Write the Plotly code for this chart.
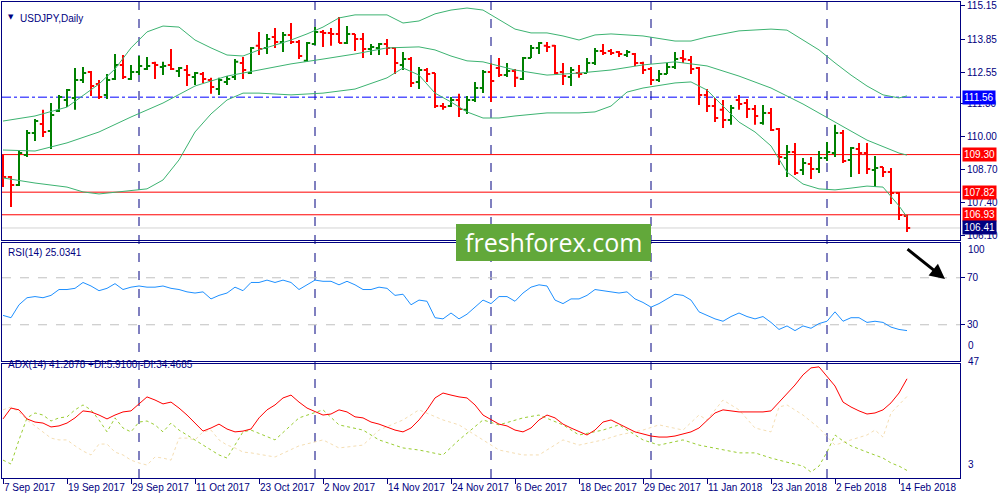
import plotly.graph_objects as go
from plotly.subplots import make_subplots

# USDJPY daily bars, 7 Sep 2017 - 15 Feb 2018 (bar index 0..113)
tick_bars = [0, 8, 16, 24, 32, 40, 48, 56, 64, 72, 80, 88, 96, 104, 112]
tick_labels = ['7 Sep 2017', '19 Sep 2017', '29 Sep 2017', '11 Oct 2017', '23 Oct 2017',
               '2 Nov 2017', '14 Nov 2017', '24 Nov 2017', '6 Dec 2017', '18 Dec 2017',
               '29 Dec 2017', '11 Jan 2018', '23 Jan 2018', '2 Feb 2018', '14 Feb 2018']
month_starts = [17, 39, 61, 81, 103]

opens = [108.61, 108.42, 108.10, 109.28, 110.15, 110.50, 110.23, 111.02, 111.45, 111.53,
         112.24, 112.55, 112.08, 111.65, 112.28, 112.83, 112.28, 112.55, 112.67, 112.91,
         112.75, 112.83, 112.59, 112.63, 112.35, 112.47, 112.24, 111.88, 112.16, 112.35,
         112.91, 112.51, 113.58, 113.50, 113.93, 113.73, 114.01, 113.73, 112.99, 113.65,
         114.13, 114.09, 114.05, 113.69, 114.05, 113.85, 113.46, 113.50, 113.65, 113.50,
         112.83, 113.06, 112.16, 112.63, 112.51, 111.21, 111.21, 111.45, 111.06, 111.45,
         111.92, 112.55, 112.71, 112.43, 112.59, 112.28, 113.10, 113.50, 113.58, 113.58,
         112.55, 112.35, 112.51, 112.51, 112.91, 113.38, 113.38, 113.34, 113.22, 113.26,
         112.91, 112.67, 112.24, 112.47, 112.75, 113.10, 113.02, 112.71, 111.65, 111.21,
         111.06, 110.66, 111.45, 111.33, 111.09, 110.54, 110.94, 110.31, 109.17, 109.40,
         108.69, 108.93, 108.73, 109.17, 109.36, 110.15, 109.09, 109.52, 109.36, 108.69,
         108.81, 108.61, 107.79, 106.88]
highs = [109.28, 108.46, 109.48, 110.27, 110.70, 111.06, 111.33, 111.65, 111.88, 112.71,
         112.75, 112.59, 112.24, 112.47, 113.26, 113.22, 112.83, 113.18, 113.14, 112.95,
         112.95, 113.46, 112.75, 112.83, 112.55, 112.55, 112.32, 112.32, 112.39, 113.06,
         113.14, 113.54, 114.13, 114.05, 114.28, 114.13, 114.48, 113.81, 113.73, 114.32,
         114.20, 114.28, 114.72, 114.36, 114.05, 114.09, 113.65, 113.69, 113.85, 113.54,
         113.34, 113.14, 112.75, 112.71, 112.51, 111.33, 111.57, 111.69, 111.61, 112.16,
         112.63, 112.91, 113.10, 112.91, 112.67, 113.14, 113.61, 113.73, 113.73, 113.61,
         112.91, 112.75, 112.83, 113.10, 113.50, 113.65, 113.46, 113.38, 113.42, 113.30,
         112.95, 112.75, 112.63, 112.91, 113.34, 113.42, 113.18, 112.75, 111.88, 111.53,
         111.45, 111.25, 111.65, 111.49, 111.25, 111.25, 111.13, 110.35, 109.68, 109.76,
         109.17, 109.20, 109.44, 109.80, 110.47, 110.27, 109.60, 109.76, 109.76, 109.24,
         108.81, 108.77, 107.83, 106.92]
lows = [108.02, 107.24, 108.06, 109.20, 109.83, 109.99, 109.52, 110.98, 111.17, 111.06,
        112.12, 111.61, 111.49, 111.49, 112.24, 112.28, 112.24, 112.43, 112.63, 112.28,
        112.43, 112.63, 112.35, 112.00, 112.04, 112.12, 111.69, 111.65, 112.04, 112.24,
        112.28, 112.47, 113.22, 113.26, 113.50, 113.34, 113.65, 113.06, 112.95, 113.61,
        113.54, 113.58, 113.69, 113.65, 113.38, 113.10, 113.22, 113.22, 113.22, 112.47,
        112.63, 111.96, 111.88, 112.16, 111.13, 111.06, 111.17, 110.78, 110.90, 111.37,
        111.72, 111.37, 112.35, 112.35, 111.96, 112.24, 113.10, 113.26, 113.34, 112.47,
        112.04, 112.00, 112.32, 112.51, 112.83, 113.22, 113.22, 113.14, 113.14, 112.79,
        112.47, 112.04, 112.16, 112.47, 112.67, 112.91, 112.47, 111.25, 110.98, 110.58,
        110.35, 110.47, 111.06, 110.74, 110.47, 110.47, 110.23, 108.89, 108.42, 108.50,
        108.50, 108.34, 108.57, 109.05, 109.20, 108.97, 108.42, 108.54, 108.54, 108.02,
        108.42, 107.35, 106.72, 106.25]
closes = [108.42, 108.10, 109.36, 110.15, 110.62, 110.19, 110.86, 111.57, 111.84, 112.24,
          112.51, 112.00, 111.57, 112.24, 112.83, 112.35, 112.55, 112.79, 112.79, 112.83,
          112.79, 112.67, 112.71, 112.43, 112.51, 112.28, 111.96, 112.24, 112.28, 112.95,
          112.63, 113.50, 113.46, 113.85, 113.73, 114.01, 113.73, 113.18, 113.69, 114.13,
          114.09, 114.05, 113.69, 114.05, 113.85, 113.46, 113.54, 113.65, 113.50, 112.91,
          113.06, 112.12, 112.63, 112.47, 111.21, 111.17, 111.45, 111.09, 111.45, 111.92,
          112.55, 112.20, 112.43, 112.59, 112.32, 113.10, 113.50, 113.69, 113.54, 112.51,
          112.39, 112.63, 112.47, 112.91, 113.38, 113.30, 113.30, 113.26, 113.34, 112.91,
          112.63, 112.24, 112.47, 112.75, 113.06, 113.05, 112.67, 111.65, 111.21, 110.74,
          110.66, 111.13, 111.29, 111.09, 110.82, 110.94, 110.27, 109.20, 109.40, 108.57,
          108.97, 108.73, 109.17, 109.40, 110.15, 109.05, 109.56, 109.36, 108.73, 108.77,
          108.61, 107.79, 106.92, 106.41]

# Bollinger bands (20) read at sample bars
bb_up_bars = [0, 4, 8, 10, 12, 14, 16, 18, 20, 22, 24, 26, 28, 30, 32, 34, 36, 38, 40, 42, 44,
              48, 50, 52, 54, 56, 58, 60, 62, 64, 66, 68, 70, 72, 74, 76, 80, 84, 86, 88, 92,
              96, 98, 100, 102, 104, 106, 108, 110, 112, 113]
bb_up = [110.62, 110.82, 111.17, 111.61, 112.08, 112.67, 113.50, 114.13, 114.36, 114.32,
         113.81, 113.50, 113.22, 113.18, 113.42, 113.61, 113.81, 114.05, 114.32, 114.68,
         114.80, 114.80, 114.48, 114.56, 114.84, 114.99, 115.07, 114.99, 114.60, 114.24,
         114.09, 114.09, 113.97, 113.81, 114.01, 114.05, 113.97, 113.77, 113.77, 113.93,
         114.17, 114.24, 114.20, 113.81, 113.42, 112.91, 112.43, 112.00, 111.65, 111.53, 111.61]
bb_mid_bars = [0, 4, 8, 12, 16, 20, 24, 28, 32, 36, 40, 44, 48, 52, 54, 56, 58, 60, 64, 68,
               72, 76, 80, 84, 88, 92, 96, 100, 104, 108, 112, 113]
bb_mid = [109.48, 109.44, 109.76, 110.19, 110.78, 111.33, 112.00, 112.39, 112.63, 112.87,
          113.06, 113.26, 113.50, 113.54, 113.42, 113.18, 112.99, 112.95, 112.63, 112.43,
          112.51, 112.63, 112.83, 112.95, 112.79, 112.39, 111.92, 111.29, 110.58, 109.87,
          109.36, 109.28]
bb_low_bars = [0, 4, 8, 10, 12, 16, 18, 20, 22, 24, 26, 28, 30, 32, 36, 40, 44, 48, 50, 52,
               54, 56, 58, 60, 62, 64, 68, 72, 74, 76, 78, 80, 84, 86, 88, 90, 92, 94, 96, 98,
               100, 102, 104, 106, 108, 110, 112, 113]
bb_low = [108.38, 108.18, 108.02, 107.83, 107.75, 107.87, 107.95, 108.30, 109.09, 110.19,
          110.90, 111.45, 111.72, 111.72, 111.65, 111.72, 111.88, 112.32, 112.71, 112.43,
          111.72, 111.37, 110.98, 110.74, 110.74, 110.82, 110.94, 110.94, 110.98, 111.21,
          111.76, 111.92, 112.12, 112.16, 111.84, 111.21, 110.58, 110.19, 109.64, 108.61,
          108.14, 107.95, 107.91, 107.98, 108.06, 108.02, 107.28, 106.84]

rsi = [38, 36, 47, 53, 54, 53, 55, 60, 60, 61, 66, 63, 59, 61, 65, 60, 62, 63, 62, 62,
       63, 61, 60, 58, 57, 58, 52, 55, 57, 62, 59, 66, 66, 68, 66, 68, 66, 60, 64, 68,
       67, 67, 64, 67, 64, 60, 60, 62, 61, 55, 56, 47, 51, 50, 36, 35, 40, 35, 39, 45,
       51, 48, 54, 54, 50, 57, 62, 64, 63, 51, 48, 52, 52, 55, 60, 59, 58, 57, 58, 52,
       49, 45, 48, 52, 56, 55, 51, 41, 38, 35, 33, 37, 40, 37, 35, 37, 32, 26, 29, 25,
       29, 27, 31, 33, 41, 33, 36, 36, 32, 33, 32, 28, 26, 25.03]

adx = [25.8, 30.0, 29.3, 25.8, 24.6, 24.2, 22.7, 23.1, 24.2, 26.2, 28.9, 28.5, 27.3, 25.8,
       27.3, 28.5, 28.9, 31.6, 34.3, 33.1, 31.6, 32.3, 30.0, 27.3, 24.2, 21.1, 22.3, 23.8,
       21.9, 20.8, 21.1, 21.9, 26.2, 29.3, 31.2, 33.9, 35.0, 32.3, 30.0, 28.5, 27.3, 27.7,
       29.3, 28.5, 26.6, 26.2, 24.6, 23.8, 22.7, 21.5, 20.8, 22.3, 25.4, 29.3, 33.9, 35.8,
       35.0, 34.3, 33.9, 31.2, 27.3, 25.4, 23.8, 23.1, 21.5, 20.8, 22.3, 25.4, 27.3, 26.2,
       23.8, 22.3, 20.8, 19.6, 21.5, 24.6, 25.4, 23.8, 22.3, 20.8, 20.0, 19.2, 18.8, 18.8,
       19.2, 20.0, 20.8, 22.3, 25.4, 28.1, 29.3, 28.9, 28.5, 28.5, 28.5, 28.5, 28.9, 32.3,
       35.8, 38.9, 42.8, 45.5, 45.9, 42.0, 38.5, 32.3, 30.4, 28.9, 27.7, 28.1, 29.3, 32.0,
       35.8, 41.29]
pdi_bars = [0, 1, 2, 3, 4, 5, 6, 7, 8, 9, 10, 11, 12, 13, 14, 15, 16, 17, 18, 19, 20, 21, 22,
            23, 24, 25, 26, 27, 28, 29, 30, 31, 34, 37, 40, 42, 45, 47, 50, 52, 55, 57, 60,
            62, 65, 67, 70, 72, 75, 77, 80, 82, 85, 87, 90, 92, 94, 96, 98, 100, 101, 102,
            103, 104, 105, 106, 108, 110, 111, 112, 113]
pdi = [9.9, 8.4, 17.7, 26.2, 28.1, 27.3, 25.0, 26.2, 26.6, 29.3, 31.2, 29.3, 25.4, 20.8,
       26.2, 22.3, 20.8, 24.6, 25.0, 23.5, 20.8, 24.2, 21.5, 19.6, 17.7, 15.7, 13.8, 11.9,
       10.7, 15.7, 20.8, 21.5, 17.7, 26.2, 29.3, 23.5, 21.5, 17.7, 14.6, 13.8, 11.9, 17.7,
       25.4, 23.5, 26.2, 27.3, 23.5, 19.6, 21.5, 23.5, 17.7, 15.7, 17.7, 15.7, 13.8, 12.7,
       12.7, 10.7, 9.1, 7.6, 5.3, 7.6, 13.0, 19.6, 17.3, 15.4, 13.0, 10.7, 8.8, 7.6, 5.91]
mdi_bars = [0, 1, 2, 3, 4, 5, 6, 7, 8, 9, 10, 11, 12, 13, 14, 15, 16, 17, 18, 19, 20, 21,
            22, 23, 24, 25, 26, 27, 28, 29, 30, 31, 34, 37, 40, 42, 45, 47, 50, 52, 55, 57,
            60, 62, 65, 67, 70, 72, 75, 77, 80, 82, 85, 87, 88, 90, 92, 94, 96, 97, 98, 100,
            102, 104, 106, 108, 109, 110, 111, 112, 113]
mdi = [29.3, 30.4, 28.5, 25.4, 23.1, 20.8, 18.4, 17.7, 17.7, 15.4, 13.4, 11.9, 16.1, 16.1,
       13.0, 11.9, 9.9, 8.8, 8.0, 11.1, 10.7, 9.9, 18.4, 18.4, 17.7, 20.8, 21.5, 17.7, 15.7,
       14.6, 13.0, 12.7, 11.1, 15.4, 17.7, 14.6, 15.7, 21.5, 25.4, 29.3, 25.4, 23.5, 17.7,
       13.8, 11.9, 11.9, 17.7, 15.7, 17.7, 19.6, 21.5, 23.5, 21.5, 27.3, 25.4, 33.1, 29.3,
       22.3, 20.8, 30.4, 31.2, 27.3, 22.3, 15.7, 17.7, 19.6, 21.5, 18.8, 28.1, 31.2, 34.47]

levels_red = [109.30, 107.82, 106.93]
level_blue = 111.56
last_price = 106.41

NAVY = '#000080'
FONT = 'Liberation Sans'


def px_x(px):
    return (px - 2) / 958


def px_y(py):
    return (478 - py) / 476


fig = make_subplots(rows=3, cols=1, shared_xaxes=True, vertical_spacing=0.0)

bars = list(range(len(opens)))
fig.add_trace(go.Ohlc(x=bars, open=opens, high=highs, low=lows, close=closes,
                      increasing_line_color='#008000', decreasing_line_color='#FF0000',
                      line_width=2, tickwidth=0.4, hoverinfo='skip'), row=1, col=1)
for bx, by in [(bb_up_bars, bb_up), (bb_mid_bars, bb_mid), (bb_low_bars, bb_low)]:
    fig.add_trace(go.Scatter(x=bx, y=by, mode='lines',
                             line=dict(color='#3CB371', width=1)), row=1, col=1)

fig.add_trace(go.Scatter(x=bars, y=rsi, mode='lines',
                         line=dict(color='#1E90FF', width=1)), row=2, col=1)

fig.add_trace(go.Scatter(x=mdi_bars, y=mdi, mode='lines',
                         line=dict(color='#F5DEB3', width=1, dash='dot')), row=3, col=1)
fig.add_trace(go.Scatter(x=pdi_bars, y=pdi, mode='lines',
                         line=dict(color='#9ACD32', width=1, dash='dot')), row=3, col=1)
fig.add_trace(go.Scatter(x=bars, y=adx, mode='lines',
                         line=dict(color='#FF0000', width=1)), row=3, col=1)

xr = [-0.125, 119.625]
axis_common = dict(showline=True, mirror=True, linecolor=NAVY, linewidth=1, automargin=False,
                   showgrid=False, zeroline=False, range=xr, fixedrange=True)
yaxis_common = dict(side='right', showline=True, mirror=True, linecolor=NAVY, showgrid=False,
                    zeroline=False, automargin=False, ticks='outside', ticklen=4, tickcolor=NAVY,
                    tickfont=dict(family=FONT, size=10, color=NAVY))
fig.update_layout(
    width=1000, height=500,
    margin=dict(l=2, r=40, t=2, b=22, autoexpand=False),
    paper_bgcolor='white', plot_bgcolor='white',
    showlegend=False,
    font=dict(family=FONT, size=10, color=NAVY),
    xaxis=dict(**axis_common, showticklabels=False, rangeslider=dict(visible=False)),
    xaxis2=dict(**axis_common, showticklabels=False),
    xaxis3=dict(**axis_common, tickvals=tick_bars, ticktext=tick_labels, tickangle=0,
                ticks='outside', ticklen=5, tickcolor=NAVY,
                ticklabelposition='outside right',
                tickfont=dict(family=FONT, size=10, color=NAVY)),
    yaxis=dict(**yaxis_common, domain=[px_y(240), 1], range=[105.937, 115.307],
               tickvals=[115.15, 113.85, 112.55, 111.30, 110.00, 108.70, 107.40, 106.10],
               ticktext=['115.15', '113.85', '112.55', '111.30', '110.00', '108.70',
                         '107.40', '106.10']),
    yaxis2=dict(**yaxis_common, domain=[px_y(361), px_y(243)], range=[-0.85, 99.6],
                tickvals=[30, 70], ticktext=['30', '70']),
    yaxis3=dict(**{k: v for k, v in yaxis_common.items() if k != 'ticks'},
                domain=[0, px_y(364)], range=[3, 47], showticklabels=False, ticks=''),
)

# month separators
for m in month_starts:
    fig.add_shape(type='line', xref='x', yref='paper', x0=m, x1=m, y0=0, y1=1,
                  line=dict(color=NAVY, width=1, dash='dash'), layer='below')

# horizontal levels
fig.add_shape(type='line', xref='paper', yref='y', x0=0, x1=1, y0=last_price, y1=last_price,
              line=dict(color='#D3D3D3', width=1), layer='below')
for lv in levels_red:
    fig.add_shape(type='line', xref='paper', yref='y', x0=0, x1=1, y0=lv, y1=lv,
                  line=dict(color='#FF0000', width=1), layer='below')
fig.add_shape(type='line', xref='paper', yref='y', x0=0, x1=1, y0=level_blue, y1=level_blue,
              line=dict(color='#0000FF', width=1, dash='dashdot'), layer='below')
for lv in [70, 30]:
    fig.add_shape(type='line', xref='paper', yref='y2', x0=0, x1=1, y0=lv, y1=lv,
                  line=dict(color='#C0C0C0', width=1, dash='dash'), layer='below')

# price labels on the scale
for lv, col in [(level_blue, '#0000FF'), (levels_red[0], '#FF0000'), (levels_red[1], '#FF0000'),
                (levels_red[2], '#FF0000'), (last_price, NAVY)]:
    fig.add_annotation(xref='paper', yref='y', x=px_x(962), y=lv, xanchor='left',
                       text=f'{lv:.2f}', showarrow=False, bgcolor=col, borderpad=1,
                       font=dict(family=FONT, size=10, color='white'))

# scale labels for indicator windows
for txt, py in [('100', 250), ('0', 353), ('47', 369), ('3', 472)]:
    fig.add_annotation(xref='paper', yref='paper', x=px_x(966), y=px_y(py), xanchor='left',
                       text=txt, showarrow=False, font=dict(family=FONT, size=10, color=NAVY))

# window titles
fig.add_annotation(xref='paper', yref='paper', x=px_x(6), y=px_y(11), xanchor='left',
                   text='▼', showarrow=False, font=dict(family='DejaVu Sans', size=7, color=NAVY))
fig.add_annotation(xref='paper', yref='paper', x=px_x(18), y=px_y(11), xanchor='left',
                   text='USDJPY,Daily', showarrow=False, font=dict(family=FONT, size=10, color=NAVY))
fig.add_annotation(xref='paper', yref='paper', x=px_x(6), y=px_y(252), xanchor='left',
                   text='RSI(14) 25.0341', showarrow=False, font=dict(family=FONT, size=10, color=NAVY))
fig.add_annotation(xref='paper', yref='paper', x=px_x(6), y=px_y(372), xanchor='left',
                   text='ADX(14) 41.2878 +DI:5.9100 -DI:34.4685', showarrow=False,
                   font=dict(family=FONT, size=10, color=NAVY))

# watermark
fig.add_shape(type='rect', xref='paper', yref='paper', x0=px_x(456), x1=px_x(651),
              y0=px_y(261), y1=px_y(224), fillcolor='#62A83A', line=dict(width=0))
fig.add_annotation(xref='paper', yref='paper', x=px_x(553), y=px_y(242), text='freshforex.com',
                   showarrow=False, font=dict(family='Open Sans', size=25, color='white'))

# forecast arrow
fig.add_annotation(xref='paper', yref='paper', x=px_x(945), y=px_y(279), ax=-39, ay=-31,
                   text='', showarrow=True, arrowhead=2, arrowsize=1, arrowwidth=3,
                   arrowcolor='black')

fig.write_html('out.html', config={'displayModeBar': False},
               post_script="document.body.style.margin='0px';")
